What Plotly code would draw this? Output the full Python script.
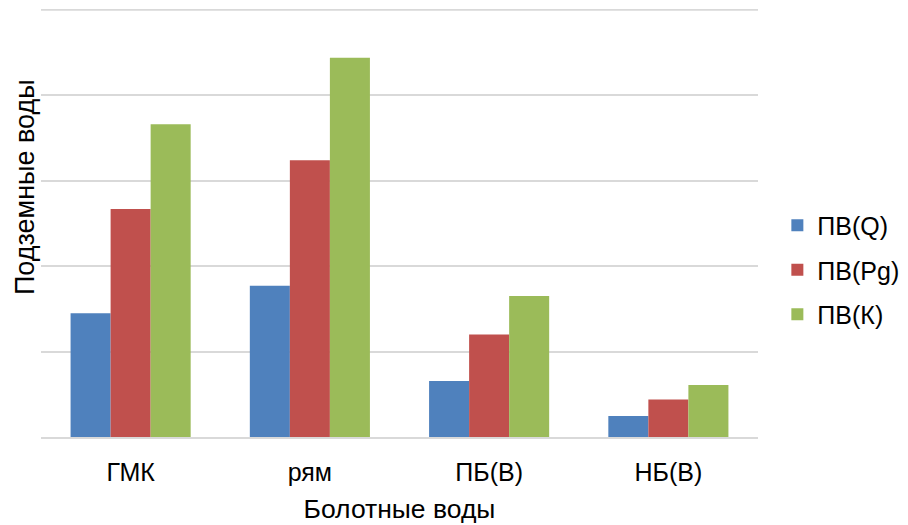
import plotly.graph_objects as go

categories = ["ГМК", "рям", "ПБ(В)", "НБ(В)"]
pv_q = [1.45, 1.77, 0.655, 0.245]
pv_pg = [2.67, 3.24, 1.20, 0.44]
pv_k = [3.66, 4.44, 1.65, 0.61]
series_names = ["ПВ(Q)", "ПВ(Pg)", "ПВ(К)"]
colors = ["#4F81BD", "#C0504D", "#9BBB59"]
y_max = 5

FONT = "Liberation Sans, Arial, sans-serif"
FS = 25

fig = go.Figure()
for i, (name, vals, col) in enumerate(zip(series_names, [pv_q, pv_pg, pv_k], colors)):
    fig.add_trace(go.Bar(x=categories, y=vals, name=name, marker_color=col,
                         marker_line_width=0, legendgroup=f"g{i}"))

fig.update_layout(
    width=900, height=517,
    margin=dict(l=33, r=150, t=1, b=88, autoexpand=False),
    plot_bgcolor="white", paper_bgcolor="white",
    barmode="group", bargap=0.33, bargroupgap=0,
    font=dict(family=FONT, size=FS, color="#000000"),
    showlegend=True,
    legend=dict(x=1.027, y=0.39, xanchor="left", yanchor="middle",
                traceorder="grouped", tracegroupgap=9,
                font=dict(size=25), itemwidth=30),
    xaxis=dict(showgrid=False, showline=True, linecolor="#d9d9d9", linewidth=2,
               ticks="", tickfont=dict(size=FS), ticklabelstandoff=12,
               title=dict(text="Болотные воды", font=dict(size=26.5), standoff=14)),
    yaxis=dict(range=[0, 5.01], dtick=1, showticklabels=False, showgrid=True,
               gridcolor="#d9d9d9", gridwidth=2, zeroline=False, ticks=""),
    shapes=[dict(type="line", xref="paper", yref="y", x0=0, x1=1, y0=y_max, y1=y_max,
                 line=dict(color="#d9d9d9", width=2), layer="below")],
    annotations=[dict(text="Подземные воды", xref="paper", yref="paper",
                      x=-0.0223, y=0.584, xanchor="center", yanchor="middle",
                      textangle=-90, showarrow=False, font=dict(size=27))],
)

fig.write_html("out.html")
